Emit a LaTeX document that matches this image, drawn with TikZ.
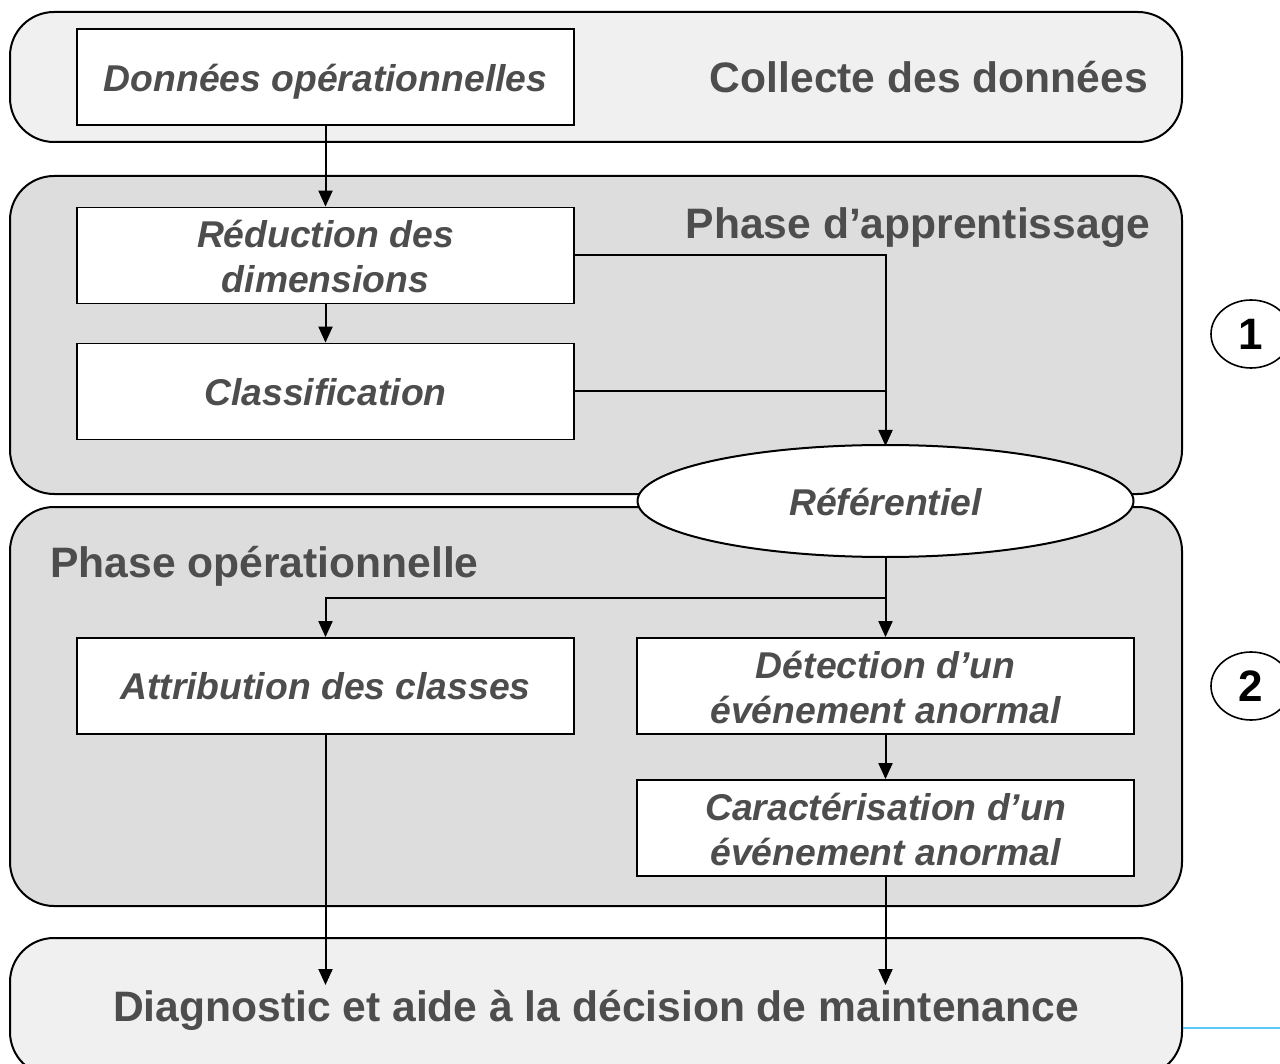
\documentclass[tikz,border=0pt]{standalone}
\usepackage{fontspec}
\setmainfont{Liberation Sans}
\usetikzlibrary{arrows.meta,shapes.geometric}
\definecolor{txt}{HTML}{4D4D4D}
\definecolor{pale}{HTML}{F0F0F0}
\definecolor{mid}{HTML}{DDDDDD}
\definecolor{rule}{HTML}{5BC8F5}
\tikzset{
  phase/.style={draw=black, line width=2pt, rounded corners=44pt, inner sep=0pt},
  boxfont/.style={font=\fontsize{37.3}{45}\selectfont\bfseries\itshape},
  stagebox/.style={draw=black, line width=1.8pt, fill=white, inner sep=0pt,
    minimum width=497pt, minimum height=96pt, align=center, text=txt, boxfont},
  heading/.style={text=txt, inner sep=0pt, font=\fontsize{42.6}{50}\selectfont\bfseries},
  marker/.style={draw=black, line width=1.6pt, ellipse, inner sep=0pt,
    minimum width=80pt, minimum height=68pt, font=\fontsize{44}{50}\selectfont\bfseries},
  arr/.style={line width=2pt, -{Triangle[width=14pt,length=16pt]}},
  link/.style={line width=2pt}
}
\begin{document}
\begin{tikzpicture}[x=1pt,y=-1pt]
\useasboundingbox (0,0) rectangle (1280,1064);
\clip (0,0) rectangle (1280,1064);
\fill[white] (0,0) rectangle (1280,1064);

% phase containers
\node[phase, fill=pale, minimum width=1172pt, minimum height=130pt] (collect) at (596,77) {};
\node[phase, fill=mid, minimum width=1172pt, minimum height=318pt] (learn) at (596,335) {};
\node[phase, fill=mid, minimum width=1172pt, minimum height=399pt] (oper) at (596,706.5) {};
\node[phase, fill=pale, minimum width=1172pt, minimum height=138pt] (diag) at (596,1007) {};

% phase titles
\node[heading, anchor=east] (tcollect) at (1148,77.5) {Collecte des données};
\node[heading, anchor=east] (tlearn) at (1150,228) {Phase d’apprentissage};
\node[heading, anchor=west] (toper) at (50,566) {Phase opérationnelle};
\node[heading] (tdiag) at (596,1010) {Diagnostic et aide à la décision de maintenance};

% processing steps
\node[stagebox] (don) at (325.5,77) {};
\node[text=txt, boxfont, inner sep=0pt] (tdon) at (325.5,82) {Données opérationnelles};
\node[stagebox] (red) at (325.5,255.5) {};
\node[text=txt, boxfont, inner sep=0pt, align=center] (tred) at (325.5,257) {Réduction des\\dimensions};
\node[stagebox] (cls) at (325.5,391.5) {};
\node[text=txt, boxfont, inner sep=0pt] (tcls) at (325.5,392.5) {Classification};
\node[stagebox] (att) at (325.5,686) {Attribution des classes};
\node[stagebox] (det) at (885.5,686) {};
\node[text=txt, boxfont, inner sep=0pt, align=center] (tdet) at (885.5,688) {Détection d’un\\événement anormal};
\node[stagebox] (car) at (885.5,828) {};
\node[text=txt, boxfont, inner sep=0pt, align=center] (tcar) at (885.5,829) {Caractérisation d’un\\événement anormal};

% connectors
\coordinate (split) at (885.5,598);
\coordinate (endL) at (325.5,985);
\coordinate (endR) at (885.5,985);
\draw[arr] (don.south) -- (red.north);
\draw[arr] (red.south) -- (cls.north);
\draw[arr] (red.east) -- (885.5,255.5) -- (885.5,446);
\draw[link] (cls.east) -- (885.5,391.5);
\draw[link] (885.5,556) -- (split);
\draw[arr] (split) -- (det.north);
\draw[arr] (split) -| (att.north);
\draw[arr] (det.south) -- (car.north);
\draw[arr] (att.south) -- (endL);
\draw[arr] (car.south) -- (endR);

% shared reference
\node[draw=black, line width=2pt, fill=white, ellipse, inner sep=0pt,
  minimum width=496pt, minimum height=112pt] (ref) at (885.5,501) {};
\node[text=txt, boxfont, inner sep=0pt] (tref) at (885.5,502) {Référentiel};

% phase markers
\node[marker] (m1) at (1251,334) {1};
\node[marker] (m2) at (1251,686) {2};

% thin rule at the lower right
\draw[rule, line width=1.5pt] (diag.east |- 0,1028) -- (1280,1028);
\end{tikzpicture}
\end{document}
